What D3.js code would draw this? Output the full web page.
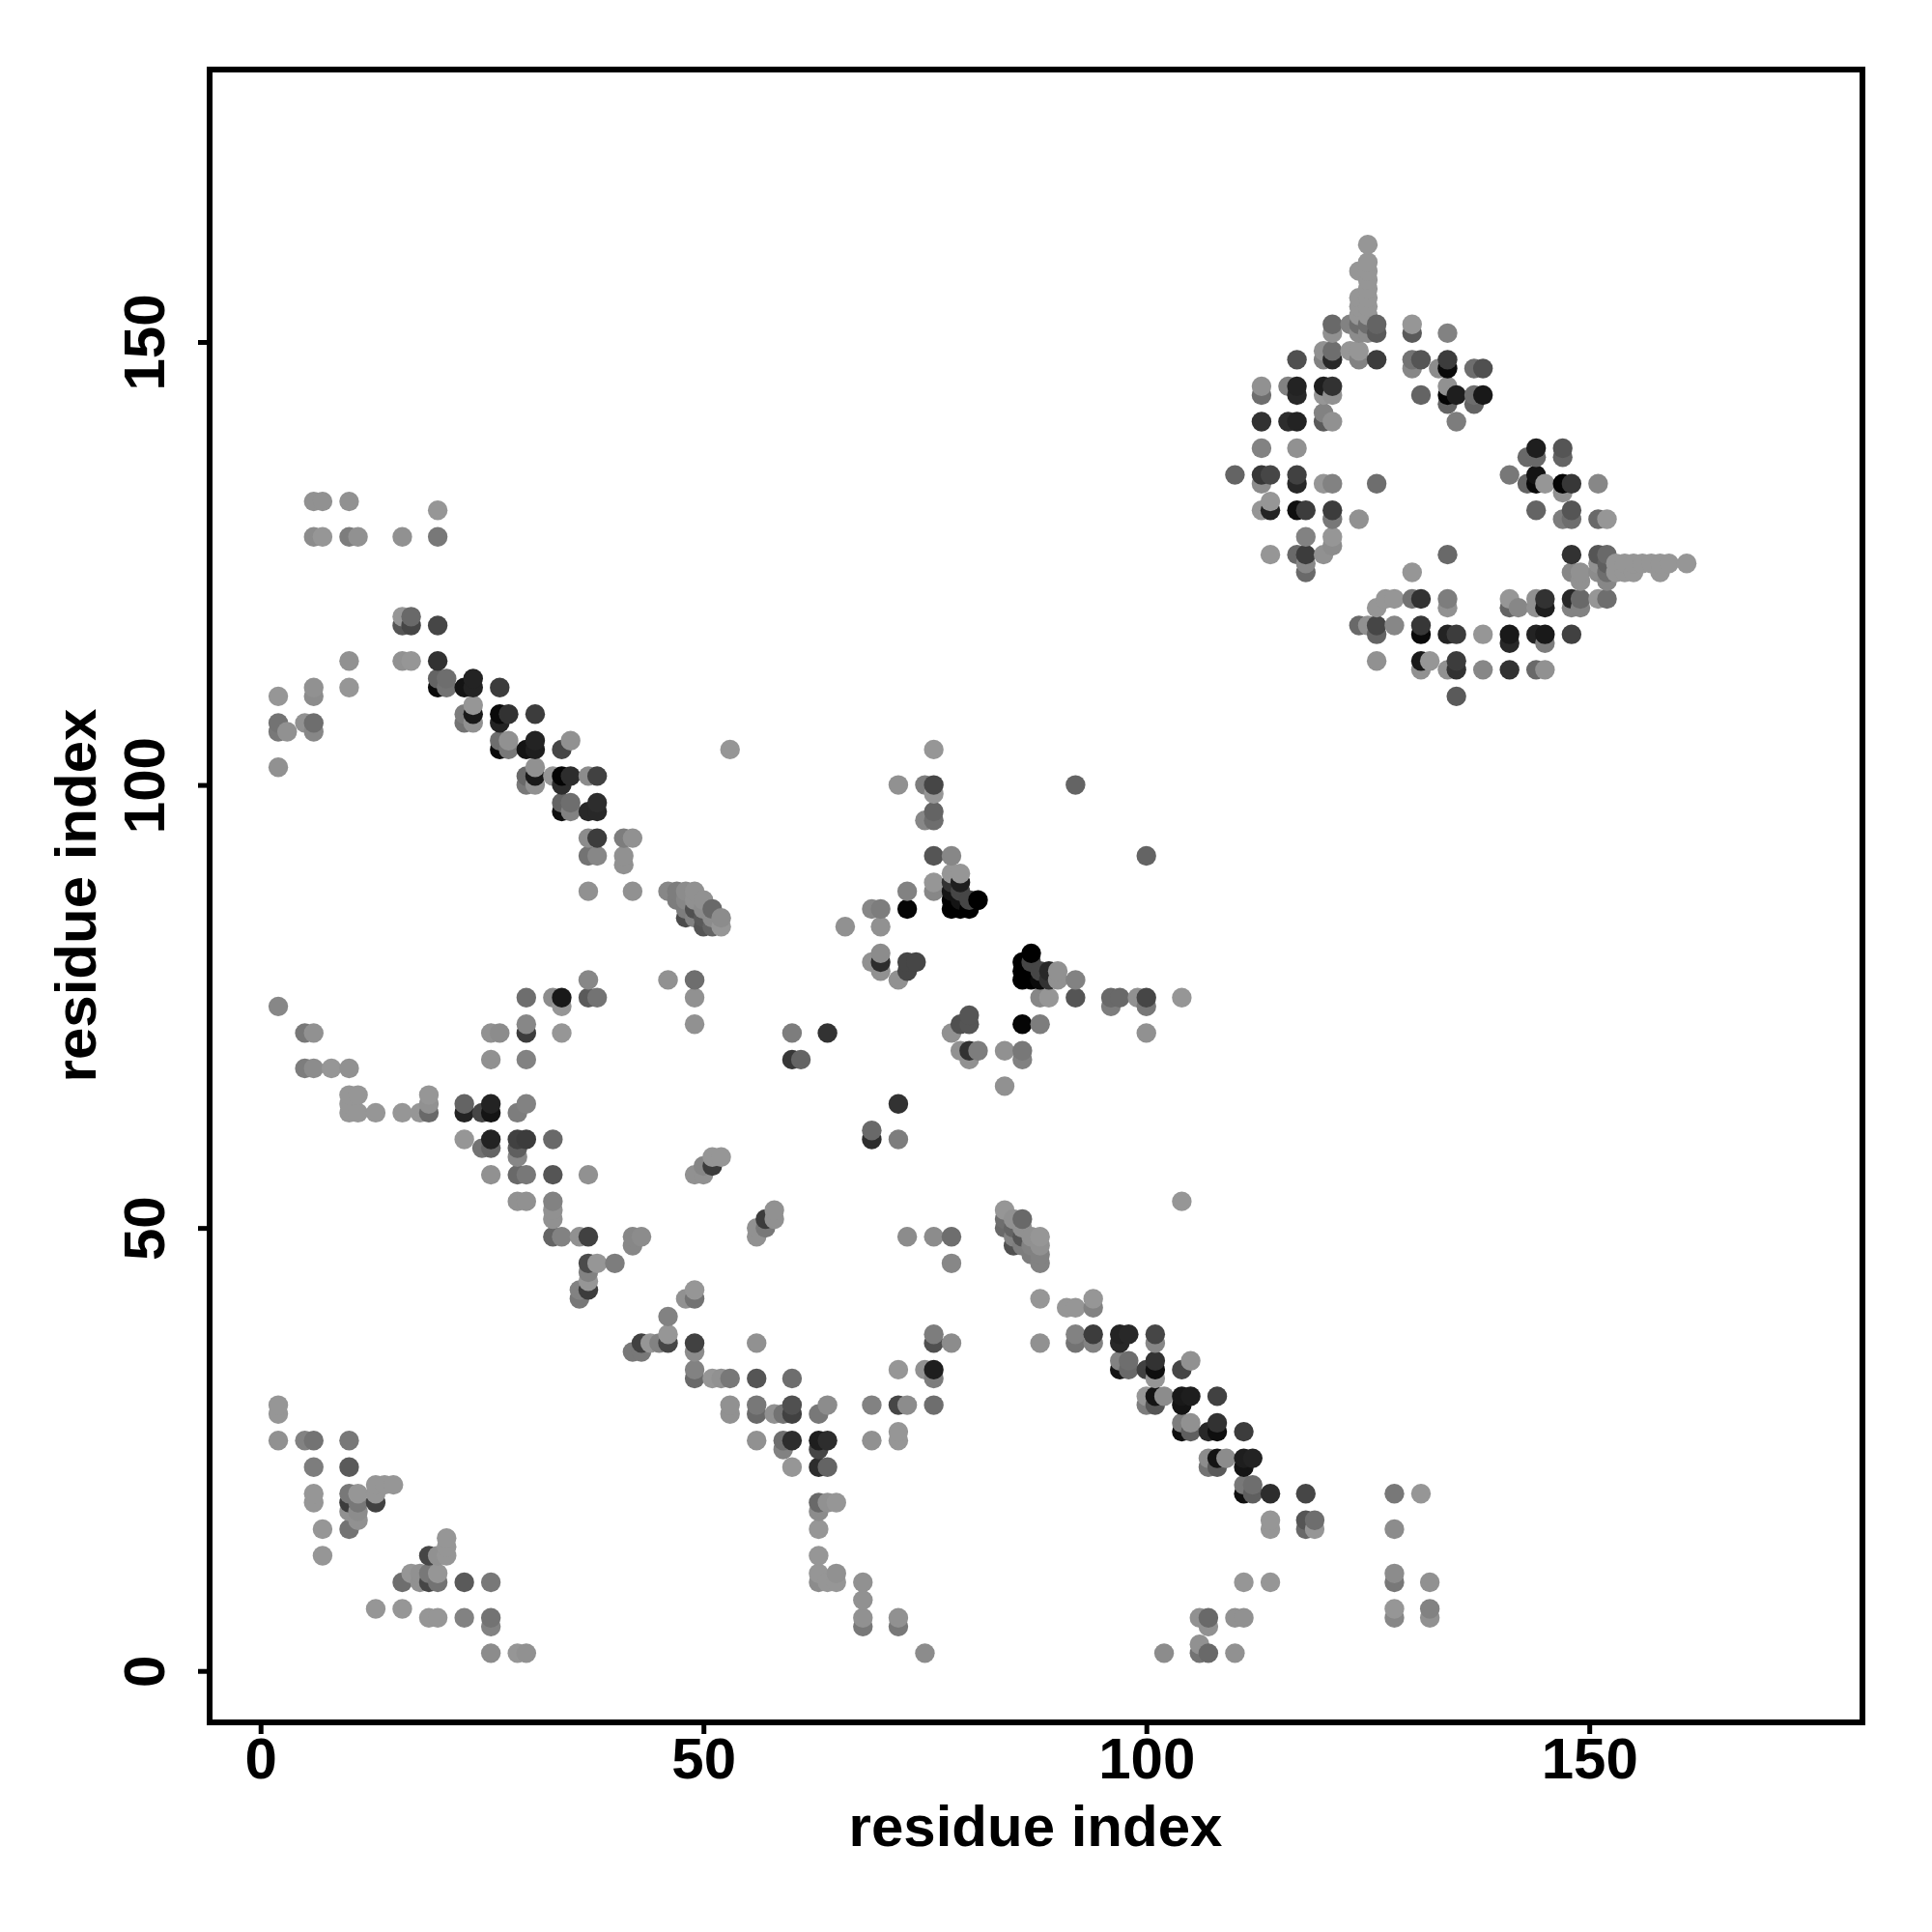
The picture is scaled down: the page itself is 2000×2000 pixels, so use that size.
<!DOCTYPE html>
<html><head><meta charset="utf-8">
<script src="https://cdn.jsdelivr.net/npm/d3@7/dist/d3.min.js"></script>
<style>html,body{margin:0;background:#fff}svg{display:block}text{font-family:"Liberation Sans",Arial,sans-serif;font-weight:bold;fill:#000}</style>
</head><body><svg id="c" width="2000" height="2000"></svg>
<script>
const xTicks=[0,50,100,150], yTicks=[0,50,100,150];
const xTitle="residue index", yTitle="residue index";
// each contact: [residue i, residue j, distance score]
const contactsA=[[2,30,150],[2,29,150],[2,26,145],[5,26,130],[6,26,115],[10,26,120],[6,23,125],[10,23,90],[6,20,150],[6,19,150],[7,16,150],[7,13,150],[10,20,120],[10,19,60],[10,18,145],[10,16,115],[11,20,150],[11,19,120],[11,18,140],[11,17,145],[13,21,150],[13,20,150],[13,19,65],[14,21,150],[15,21,150],[16,10,110],[17,11,150],[18,11,145],[18,10,145],[19,13,70],[19,11,120],[19,10,70],[20,13,145],[20,11,150],[20,10,115],[21,15,150],[21,14,150],[21,13,150],[23,10,90],[26,10,120],[13,7,150],[16,7,150],[19,6,150],[20,6,150],[23,6,130],[26,6,115],[26,5,130],[26,2,140],[29,2,150],[30,2,145]];
const contactsB=[[36,43,130],[36,42,120],[37,46,75],[37,45,130],[37,44,150],[37,43,60],[38,46,150],[40,46,125],[42,36,120],[43,36,120],[43,37,65],[44,37,150],[45,37,130],[46,37,70],[46,38,150],[46,40,130],[48,42,145],[49,42,115],[49,43,150],[49,37,65],[49,36,140],[49,34,130],[49,33,105],[51,33,150],[52,33,145],[53,33,120],[56,37,145],[56,33,85],[60,33,110],[53,30,145],[53,29,145],[56,30,120],[56,29,105],[58,29,145],[59,29,115],[60,30,80],[60,29,65],[63,29,120],[64,30,140],[56,26,145],[59,26,110],[59,25,130],[60,26,45],[60,23,150],[63,26,30],[63,25,70],[64,26,45],[63,23,45],[64,23,100],[63,19,105],[63,18,140],[64,19,145],[65,19,150],[63,16,150],[63,13,150],[63,11,150],[63,10,140],[64,10,150],[65,11,145],[65,10,150],[68,10,145],[68,8,145],[68,6,145],[68,5,120],[72,6,145],[72,5,120],[75,2,140],[69,30,130],[69,26,145],[72,30,70],[73,30,140],[72,34,150],[72,27,150],[72,26,150],[75,34,145],[76,34,30],[76,33,125],[76,38,125],[76,37,80],[78,37,140],[76,30,110]];
const contactsC=[[88,42,150],[91,41,150],[92,41,150],[94,42,150],[94,41,130],[88,37,145],[92,38,130],[92,37,115],[94,38,60],[94,37,130],[97,38,35],[97,37,40],[98,38,40],[101,38,70],[101,37,135],[97,35,130],[97,34,20],[98,35,110],[98,34,105],[100,34,65],[101,35,50],[101,34,15],[101,33,150],[104,34,70],[105,35,145],[100,31,150],[100,30,125],[101,31,20],[101,30,85],[102,31,140],[104,31,25],[104,30,20],[105,31,30],[104,28,125],[104,27,15],[105,28,145],[105,27,95],[107,27,40],[108,31,65],[108,28,50],[108,27,15],[111,27,60],[107,24,140],[107,23,115],[108,24,20],[108,23,90],[109,24,140],[111,24,30],[111,23,20],[112,24,35],[111,21,120],[111,20,15],[112,21,110],[112,20,95],[114,20,45],[118,20,70],[114,17,150],[114,16,150],[118,17,85],[118,16,105],[119,17,110],[119,16,150],[128,20,120],[131,20,150],[128,16,140],[111,10,150],[114,10,150],[128,11,140],[128,10,120],[132,10,145],[128,7,150],[128,6,135],[132,7,130],[132,6,145],[106,6,145],[107,6,105],[107,5,145],[110,6,145],[111,6,145],[106,3,145],[106,2,115],[107,2,105],[102,2,140],[110,2,145],[104,53,150]];
const contactsD=[[76,104,150],[72,100,145],[75,100,125],[76,100,70],[76,99,150],[76,97,100],[76,96,110],[75,96,135],[76,92,85],[78,92,135],[100,92,100],[92,100,100],[73,88,130],[76,89,150],[76,88,135],[78,90,150],[79,90,150],[78,89,50],[79,89,30],[78,88,20],[78,87,0],[78,86,0],[79,88,70],[79,87,20],[79,86,0],[80,87,70],[80,86,0],[81,87,0],[73,86,5],[69,86,135],[70,86,125],[66,84,145],[70,84,145],[69,80,145],[70,81,140],[70,80,45],[70,79,145],[72,78,145],[73,80,70],[73,79,70],[74,80,70],[87,81,0],[86,80,0],[86,79,0],[86,78,0],[87,80,70],[87,79,0],[87,78,0],[88,79,70],[88,78,10],[89,79,40],[89,78,50],[90,79,145],[90,78,145],[92,78,130],[88,76,135],[89,76,150],[92,76,85],[96,76,105],[96,75,125],[97,76,105],[99,76,145],[100,76,70],[100,75,120],[104,76,150],[100,72,145],[86,73,5],[88,73,125],[80,74,85],[79,73,80],[80,73,85],[78,72,145],[79,70,145],[80,70,50],[81,70,125],[80,69,145],[84,70,145],[86,70,120],[86,69,130],[84,66,145],[60,72,125],[64,72,50],[60,69,55],[61,69,100],[72,64,50],[69,61,105],[69,60,45],[72,60,125]];
const contactsE=[[2,75,135],[5,72,120],[6,72,145],[5,68,125],[6,68,140],[8,68,150],[10,68,145],[10,65,150],[11,65,150],[10,64,150],[10,63,150],[11,63,150],[13,63,150],[16,63,150],[18,63,150],[19,65,150],[19,64,145],[19,63,105],[23,64,100],[23,63,35],[25,63,70],[26,64,35],[26,63,20],[29,63,125],[30,64,130],[23,60,150],[25,59,115],[26,60,35],[26,59,100],[29,60,65],[29,59,95],[29,58,135],[30,60,60],[33,60,105],[26,56,145],[29,56,105],[30,56,120],[33,56,85],[37,56,145],[29,53,145],[30,53,145],[33,53,130],[33,52,145],[33,51,145],[33,49,100],[34,49,130],[36,49,145],[37,49,65],[42,49,135],[43,49,140],[42,48,135],[30,76,110],[33,76,140],[34,76,25],[34,75,150],[37,78,135],[37,76,90],[38,76,115],[46,78,145],[49,78,110],[49,76,145],[49,73,145],[26,72,145],[27,72,140],[30,73,135],[30,72,60],[34,72,150],[26,69,145],[30,69,130],[49,56,145],[50,56,145],[50,57,135],[51,57,60],[51,58,150],[52,58,150],[56,49,145],[56,50,145],[57,50,120],[57,51,60],[58,51,145],[58,52,145],[73,49,140],[76,49,140],[78,49,110],[78,46,135]];
const contactsF=[[6,132,145],[7,132,145],[10,132,145],[20,131,150],[6,128,140],[7,128,150],[10,128,125],[11,128,145],[16,128,145],[20,128,120],[16,119,150],[16,118,85],[17,119,105],[17,118,70],[20,118,70],[10,114,145],[16,114,145],[17,114,150],[20,114,50],[20,112,100],[20,111,10],[21,112,110],[21,111,115],[23,111,20],[24,112,35],[24,111,35],[27,111,60],[6,111,145],[6,110,140],[10,111,150],[2,110,150],[2,107,115],[2,106,120],[3,106,145],[5,107,145],[6,107,110],[6,106,135],[2,102,145],[23,108,125],[23,107,115],[24,109,150],[24,108,25],[24,107,145],[27,108,10],[27,107,35],[28,108,50],[31,108,60],[27,105,110],[27,104,10],[28,105,145],[28,104,120],[30,104,20],[31,105,35],[31,104,30],[34,104,70],[35,105,145],[30,101,105],[30,100,120],[31,102,145],[31,101,25],[31,100,145],[33,101,150],[34,101,5],[34,100,45],[35,101,45],[37,101,140],[38,101,65],[34,98,100],[34,97,15],[35,98,110],[35,97,130],[37,97,40],[38,98,45],[38,97,40],[37,94,140],[38,94,60],[41,94,125],[42,94,145],[37,92,115],[38,92,135],[41,92,145],[41,91,145],[37,88,145],[42,88,145],[53,104,150]];
const contactsG=[[46,88,135],[47,88,125],[48,88,140],[49,88,145],[47,87,125],[48,87,135],[49,87,145],[48,86,125],[49,86,80],[50,87,145],[48,85,75],[49,85,130],[50,86,140],[50,85,90],[51,86,105],[51,85,140],[50,84,85],[51,84,100],[52,85,140],[52,84,150]];
const contactsH=[[84,52,150],[84,51,110],[84,50,105],[85,51,145],[85,50,100],[86,51,105],[85,49,130],[85,48,80],[86,50,145],[86,49,85],[86,48,125],[87,49,145],[87,48,130],[87,47,125],[88,49,150],[88,48,145],[88,47,130],[88,46,130]];
const contactsI=[[125,161,150],[125,159,150],[124,158,150],[125,158,150],[125,157,150],[125,156,150],[124,155,150],[125,155,150],[124,154,150],[125,154,150],[124,153,150],[125,153,150],[121,152,105],[121,151,145],[123,152,130],[124,152,110],[124,151,140],[125,152,110],[125,151,140],[126,152,100],[126,151,90],[130,152,150],[130,151,90],[134,151,130],[117,148,80],[120,149,145],[120,148,130],[121,149,110],[121,148,40],[123,149,150],[124,149,150],[124,148,130],[126,148,60],[130,148,115],[130,147,135],[131,148,85],[133,147,140],[134,148,60],[134,147,10],[137,147,110],[138,147,80],[113,145,145],[113,144,110],[116,145,130],[117,145,35],[117,144,40],[120,145,30],[121,145,50],[120,144,150],[121,144,145],[131,144,100],[134,145,145],[134,144,5],[134,143,100],[135,144,30],[137,144,110],[137,143,100],[138,144,25],[135,141,125],[113,141,50],[116,141,45],[117,141,35],[120,142,130],[120,141,90],[121,141,145],[113,138,130],[117,138,145],[110,135,100],[113,135,55],[113,134,140],[114,135,70],[117,135,65],[117,134,40],[120,134,150],[121,134,130],[126,134,110]];
const contactsJ=[[113,131,150],[114,132,150],[114,131,35],[117,131,15],[118,131,60],[121,131,60],[121,130,120],[124,130,145],[118,128,130],[121,128,150],[121,127,140],[114,126,150],[117,126,105],[118,126,60],[118,125,135],[118,124,105],[120,126,145],[134,126,105],[130,124,150],[127,121,150],[128,121,150],[126,120,150],[130,121,115],[131,121,50],[134,121,125],[134,120,145],[124,118,105],[125,118,145],[126,118,70],[126,117,100],[128,118,135],[131,118,55],[131,117,10],[134,117,35],[135,117,60],[138,117,150],[126,114,145],[131,114,25],[131,113,145],[132,114,150],[134,113,145],[135,114,60],[135,113,50],[138,113,135],[135,110,90]];
const contactsK=[[141,135,120],[143,137,105],[144,138,30],[144,137,105],[147,138,85],[147,137,100],[143,134,100],[144,135,20],[144,134,10],[145,134,150],[147,134,5],[147,133,145],[148,134,55],[151,134,135],[144,131,100],[147,130,125],[148,131,85],[148,130,110],[151,130,105],[152,130,150],[148,126,50],[151,126,85],[152,126,105],[151,125,145],[151,124,140],[152,125,95],[152,124,110],[152,123,135],[148,124,135],[149,124,145],[149,123,145],[153,125,150],[153,124,150],[154,125,150],[154,124,150],[155,125,150],[155,124,150],[156,125,150],[157,125,150],[158,125,150],[158,124,150],[159,125,150],[161,125,150],[141,121,150],[141,120,100],[142,120,135],[144,121,145],[144,120,145],[145,121,50],[145,120,30],[148,121,40],[148,120,130],[149,121,105],[149,120,130],[151,121,150],[152,121,110],[141,117,25],[141,116,40],[144,117,35],[145,117,25],[145,116,125],[148,117,65],[141,113,50],[144,113,105],[145,113,145]];

const contacts=[contactsA,contactsB,contactsC,contactsD,contactsE,contactsF,contactsG,contactsH,contactsI,contactsJ,contactsK].flat()
  .sort((a,b)=>d3.ascending(a[0],b[0])||d3.ascending(a[1],b[1]));

const L=217,R=1928,T=72,B=1783;
const x=d3.scaleLinear().domain([-5.75,180.84]).range([L,R]);
const y=d3.scaleLinear().domain([-5.81,180.75]).range([B,T]);
const grey=d3.scaleLinear().domain([0,153]).range(["#000000","#999999"]);
const svg=d3.select("#c");

svg.append("g").selectAll("circle").data(contacts).join("circle")
  .attr("cx",d=>x(d[0])).attr("cy",d=>y(d[1])).attr("r",10.2).attr("fill",d=>grey(d[2]));

svg.append("rect").attr("x",L).attr("y",T).attr("width",R-L).attr("height",B-T)
  .attr("fill","none").attr("stroke","#000").attr("stroke-width",6);

const gx=svg.append("g").attr("transform",`translate(0,${B})`)
  .call(d3.axisBottom(x).tickValues(xTicks).tickSize(12).tickPadding(14));
const gy=svg.append("g").attr("transform",`translate(${L},0)`)
  .call(d3.axisLeft(y).tickValues(yTicks).tickSize(12).tickPadding(14));
[gx,gy].forEach(g=>{g.select(".domain").remove();
  g.selectAll("line").attr("stroke","#000").attr("stroke-width",5);
  g.selectAll("text").attr("font-size",60).attr("fill","#000");});
gy.selectAll("text").attr("x",-47).attr("y",0).attr("dy",null).attr("text-anchor","middle")
  .attr("transform","rotate(-90,-47,0)");
gx.selectAll("text").attr("dy",null).attr("y",58);

svg.append("text").attr("x",1072).attr("y",1911).attr("text-anchor","middle").attr("font-size",60).text(xTitle);
svg.append("text").attr("transform","translate(99,927) rotate(-90)").attr("text-anchor","middle").attr("font-size",60).text(yTitle);
</script></body></html>
